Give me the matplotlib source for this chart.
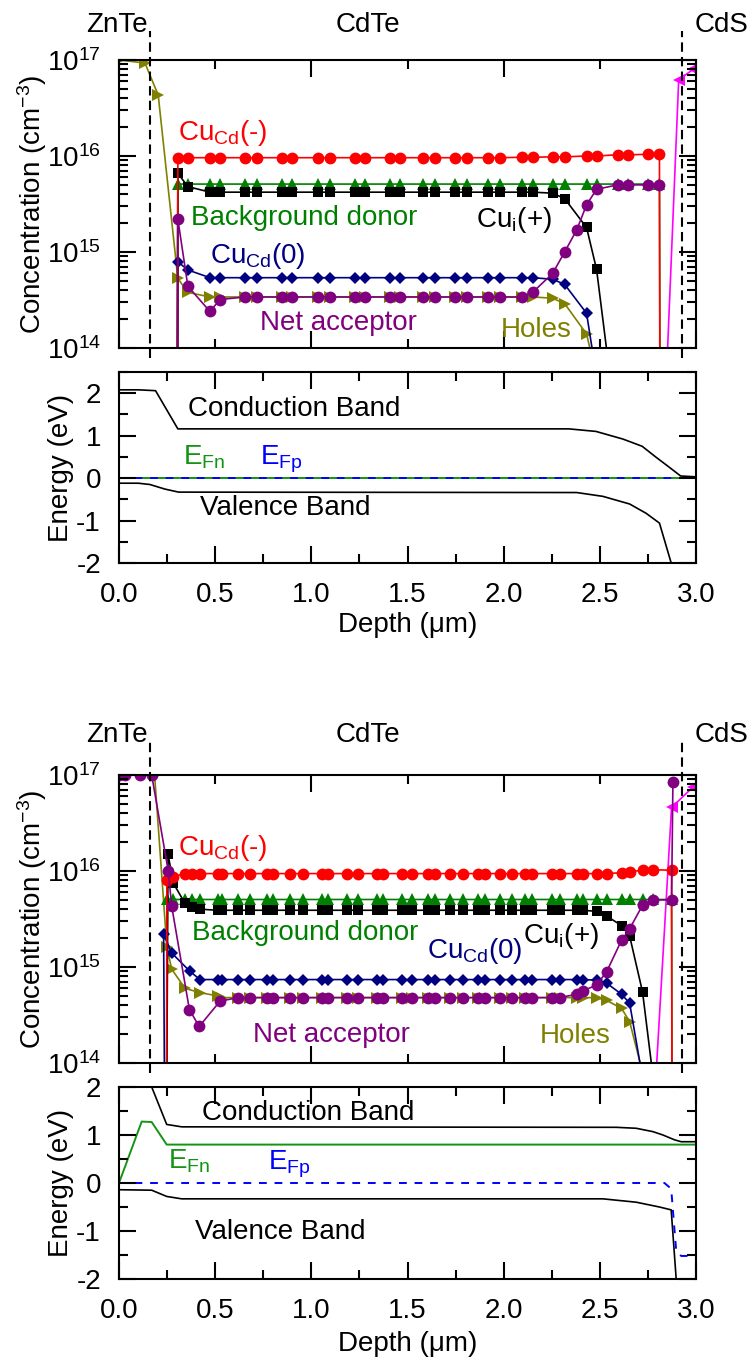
import matplotlib
matplotlib.use("Agg")
import matplotlib.pyplot as plt
from matplotlib.ticker import MultipleLocator, LogLocator, NullFormatter, FormatStrFormatter

plt.rcParams['font.family'] = ['Liberation Sans', 'DejaVu Sans']
plt.rcParams['mathtext.fontset'] = 'custom'
plt.rcParams['mathtext.rm'] = 'Liberation Sans'
plt.rcParams['mathtext.it'] = 'Liberation Sans:italic'
plt.rcParams['mathtext.bf'] = 'Liberation Sans:bold'
plt.rcParams['axes.unicode_minus'] = False
plt.rcParams['axes.axisbelow'] = False
plt.rcParams['font.size'] = 20

# layer interfaces (um)
znte_edge = 0.161
cds_edge = 2.925

# ---------------- case 1: concentrations (cm^-3) ----------------
grid_a = [0.306, 0.358, 0.473, 0.525, 0.655, 0.717, 0.847, 0.899, 1.034, 1.096,
          1.226, 1.278, 1.408, 1.460, 1.579, 1.642, 1.745, 1.808, 1.917, 1.979,
          2.094, 2.151, 2.255, 2.317, 2.431, 2.483, 2.592, 2.644, 2.748, 2.810]

cucd_minus_a_x = [0.300] + grid_a + [2.815]
cucd_minus_a = [1e10,
                 9.5e15, 9.6e15, 9.6e15, 9.6e15, 9.6e15, 9.6e15, 9.6e15, 9.6e15, 9.6e15, 9.6e15,
                 9.6e15, 9.6e15, 9.6e15, 9.6e15, 9.6e15, 9.6e15, 9.6e15, 9.6e15, 9.6e15, 9.6e15,
                 9.7e15, 9.7e15, 9.8e15, 9.8e15, 1.00e16, 1.00e16, 1.03e16, 1.03e16, 1.04e16, 1.04e16,
                 1e10]

donor_a_x = [0.302] + grid_a + [2.818]
donor_a = [1e10,
           5.1e15, 5.1e15, 5.1e15, 5.1e15, 5.1e15, 5.1e15, 5.1e15, 5.1e15, 5.1e15, 5.1e15,
           5.1e15, 5.1e15, 5.1e15, 5.1e15, 5.1e15, 5.1e15, 5.1e15, 5.1e15, 5.1e15, 5.1e15,
           5.1e15, 5.1e15, 5.1e15, 5.1e15, 5.1e15, 5.1e15, 5.1e15, 5.1e15, 5.1e15, 5.1e15,
           1e10]

cui_a_x = [0.298] + grid_a[:27]
cui_a = [1e10,
         6.6e15, 4.8e15, 4.2e15, 4.2e15, 4.2e15, 4.2e15, 4.2e15, 4.2e15, 4.2e15, 4.2e15,
         4.2e15, 4.2e15, 4.2e15, 4.2e15, 4.2e15, 4.2e15, 4.2e15, 4.2e15, 4.2e15, 4.2e15,
         4.2e15, 4.2e15, 4.1e15, 3.6e15, 1.8e15, 6.6e14, 1.2e13]

cucd_zero_a_x = [0.300] + grid_a[:26]
cucd_zero_a = [1e10,
               7.9e14, 6.5e14, 5.4e14, 5.4e14, 5.4e14, 5.4e14, 5.4e14, 5.4e14, 5.4e14, 5.4e14,
               5.4e14, 5.4e14, 5.4e14, 5.4e14, 5.4e14, 5.4e14, 5.4e14, 5.4e14, 5.4e14, 5.4e14,
               5.4e14, 5.4e14, 5.2e14, 4.6e14, 2.3e14, 5.0e13]

net_acc_a_x = [0.300] + grid_a[:24] + [2.380] + grid_a[24:]
net_acc_a = [1e10,
             2.2e15, 4.4e14, 2.4e14, 3.2e14, 3.4e14, 3.4e14, 3.4e14, 3.4e14, 3.4e14, 3.4e14,
             3.4e14, 3.4e14, 3.4e14, 3.4e14, 3.4e14, 3.4e14, 3.4e14, 3.4e14, 3.4e14, 3.4e14,
             3.4e14, 3.8e14, 6.0e14, 1.0e15, 1.7e15, 3.1e15, 4.5e15, 5.0e15, 5.0e15, 5.0e15,
             5.0e15]

holes_a_x = [0.0, 0.135, 0.204] + grid_a[:26]
holes_a = [1e17, 9.3e16, 4.3e16,
           5.3e14, 3.8e14, 3.4e14, 3.4e14, 3.4e14, 3.4e14, 3.4e14, 3.4e14, 3.4e14, 3.4e14,
           3.4e14, 3.4e14, 3.4e14, 3.4e14, 3.4e14, 3.4e14, 3.4e14, 3.4e14, 3.4e14, 3.4e14,
           3.4e14, 3.4e14, 3.3e14, 2.9e14, 1.4e14, 5.0e13]

electrons_a_x = [2.77, 2.91, 2.985]
electrons_a = [1e10, 6.2e16, 8.0e16]

# ---------------- case 1: band diagram (eV) ----------------
cb_a_x = [0.0, 0.10, 0.190, 0.306, 2.34, 2.48, 2.62, 2.72, 2.79, 2.86, 2.92, 3.0]
cb_a = [2.08, 2.08, 2.06, 1.16, 1.16, 1.10, 0.92, 0.75, 0.50, 0.26, 0.05, 0.03]
vb_a_x = [0.0, 0.10, 0.16, 0.24, 0.31, 2.38, 2.516, 2.655, 2.741, 2.81, 2.871, 2.885]
vb_a = [-0.12, -0.12, -0.15, -0.26, -0.33, -0.34, -0.43, -0.61, -0.83, -1.06, -2.0, -2.2]
efn_a_x = [0.0, 3.0]
efn_a = [0.0, 0.0]
efp_a_x = [0.0, 3.0]
efp_a = [0.0, 0.0]

# ---------------- case 2: concentrations (cm^-3) ----------------
grid_b = [0.249, 0.282, 0.343, 0.379, 0.421, 0.514, 0.535, 0.618, 0.681, 0.769,
          0.800, 0.888, 0.956, 1.055, 1.086, 1.184, 1.242, 1.340, 1.371, 1.470,
          1.522, 1.605, 1.642, 1.719, 1.787, 1.865, 1.901, 1.979, 2.042, 2.109,
          2.145, 2.249, 2.291, 2.379, 2.410, 2.483, 2.535, 2.613, 2.655, 2.722,
          2.774, 2.873]

cucd_minus_b_x = [0.244] + grid_b + [2.878]
cucd_minus_b = [1e10,
                8.0e15, 8.7e15, 9.4e15, 9.4e15, 9.4e15, 9.4e15, 9.4e15, 9.4e15, 9.4e15, 9.4e15,
                9.4e15, 9.4e15, 9.4e15, 9.4e15, 9.4e15, 9.4e15, 9.4e15, 9.4e15, 9.4e15, 9.4e15,
                9.4e15, 9.4e15, 9.4e15, 9.4e15, 9.4e15, 9.4e15, 9.4e15, 9.4e15, 9.4e15, 9.4e15,
                9.4e15, 9.4e15, 9.4e15, 9.4e15, 9.4e15, 9.4e15, 9.4e15, 9.6e15, 9.8e15, 1.02e16,
                1.03e16, 1.02e16,
                1e10]

donor_b_x = [0.246] + grid_b + [2.880]
donor_b = [1e10,
           5.05e15, 5.05e15, 5.05e15, 5.05e15, 5.05e15, 5.05e15, 5.05e15, 5.05e15, 5.05e15, 5.05e15,
           5.05e15, 5.05e15, 5.05e15, 5.05e15, 5.05e15, 5.05e15, 5.05e15, 5.05e15, 5.05e15, 5.05e15,
           5.05e15, 5.05e15, 5.05e15, 5.05e15, 5.05e15, 5.05e15, 5.05e15, 5.05e15, 5.05e15, 5.05e15,
           5.05e15, 5.05e15, 5.05e15, 5.05e15, 5.05e15, 5.05e15, 5.05e15, 5.05e15, 5.05e15, 5.05e15,
           5.05e15, 5.05e15,
           1e10]

cui_b_x = [0.238, 0.255] + grid_b[1:40] + [2.80]
cui_b = [1e10, 1.5e16,
         7.5e15, 4.6e15, 4.2e15, 4.0e15, 3.9e15, 3.9e15, 3.9e15, 3.9e15, 3.9e15, 3.9e15,
         3.9e15, 3.9e15, 3.9e15, 3.9e15, 3.9e15, 3.9e15, 3.9e15, 3.9e15, 3.9e15, 3.9e15,
         3.9e15, 3.9e15, 3.9e15, 3.9e15, 3.9e15, 3.9e15, 3.9e15, 3.9e15, 3.9e15, 3.9e15,
         3.9e15, 3.9e15, 3.9e15, 3.9e15, 3.8e15, 3.4e15, 2.7e15, 2.1e15, 5.5e14,
         3.0e13]

cucd_zero_b_x = [0.247, 0.232, 0.274, 0.369] + grid_b[4:40]
cucd_zero_b = [1e10, 2.2e15, 1.4e15, 9.0e14,
               7.4e14, 7.4e14, 7.4e14, 7.4e14, 7.4e14, 7.4e14, 7.4e14, 7.4e14, 7.4e14, 7.4e14,
               7.4e14, 7.4e14, 7.4e14, 7.4e14, 7.4e14, 7.4e14, 7.4e14, 7.4e14, 7.4e14, 7.4e14,
               7.4e14, 7.4e14, 7.4e14, 7.4e14, 7.4e14, 7.4e14, 7.4e14, 7.4e14, 7.4e14, 7.4e14,
               7.4e14, 7.3e14, 6.8e14, 5.2e14, 4.2e14, 7.0e13]

holes_b_x = [0.0, 0.185, 0.249, 0.274, 0.343, 0.421] + grid_b[5:40]
holes_b = [1e17, 1e17, 1.6e15, 9.5e14, 6.0e14, 5.4e14,
           5.0e14, 4.8e14, 4.8e14, 4.8e14, 4.8e14, 4.8e14, 4.8e14, 4.8e14, 4.8e14, 4.8e14,
           4.8e14, 4.8e14, 4.8e14, 4.8e14, 4.8e14, 4.8e14, 4.8e14, 4.8e14, 4.8e14, 4.8e14,
           4.8e14, 4.8e14, 4.8e14, 4.8e14, 4.8e14, 4.8e14, 4.8e14, 4.8e14, 4.8e14, 4.8e14,
           4.8e14, 4.5e14, 3.7e14, 2.7e14, 8.0e13]

net_acc_b_x = [0.0, 0.031, 0.109, 0.170, 0.256, 0.274, 0.366, 0.417, 0.525] + grid_b[7:42] + [2.880]
net_acc_b = [1e17, 1e17, 1e17, 1e17, 1.0e16, 4.3e15, 3.6e14, 2.4e14, 4.4e14,
             4.8e14, 4.8e14, 4.8e14, 4.8e14, 4.8e14, 4.8e14, 4.8e14, 4.8e14, 4.8e14, 4.8e14,
             4.8e14, 4.8e14, 4.8e14, 4.8e14, 4.8e14, 4.8e14, 4.8e14, 4.8e14, 4.8e14, 4.8e14,
             4.8e14, 4.8e14, 4.8e14, 4.8e14, 4.8e14, 4.8e14,
             5.2e14, 5.6e14, 6.5e14, 8.9e14, 1.9e15, 2.5e15, 4.4e15, 5.0e15, 5.0e15,
             8.5e16]

electrons_b_x = [2.68, 2.873, 2.985]
electrons_b = [1e10, 4.6e16, 7.5e16]

# ---------------- case 2: band diagram (eV) ----------------
cb_b_x = [0.0, 0.16, 0.248, 0.326, 2.585, 2.689, 2.776, 2.828, 2.888, 2.923, 3.0]
cb_b = [2.1, 2.1, 1.22, 1.17, 1.16, 1.14, 1.07, 1.00, 0.90, 0.86, 0.86]
efn_b_x = [0.0, 0.118, 0.170, 0.248, 3.0]
efn_b = [0.0, 1.28, 1.27, 0.80, 0.80]
efp_b_x = [0.0, 2.836, 2.871, 2.897, 2.923, 3.0]
efp_b = [0.0, 0.0, -0.12, -1.41, -1.52, -1.52]
vb_b_x = [0.0, 0.170, 0.248, 0.326, 2.516, 2.689, 2.81, 2.871, 2.897, 2.90]
vb_b = [-0.14, -0.15, -0.28, -0.33, -0.33, -0.40, -0.50, -0.56, -2.0, -2.2]

RED = '#ff0000'
GREEN = '#008000'
NAVY = '#000080'
PURPLE = '#800080'
OLIVE = '#808000'
MAGENTA = '#ff00ff'
BLUE = '#0000ff'
FN_GREEN = '#149414'

W, H = 753, 1363
fig = plt.figure(figsize=(W / 100, H / 100), dpi=100)


def box(left, top, right, bottom):
    return [left / W, 1 - bottom / H, (right - left) / W, (bottom - top) / H]


def style_ticks(ax):
    ax.tick_params(which='both', direction='in', top=True, right=True, width=1.5)
    ax.tick_params(which='major', length=12)
    ax.tick_params(which='minor', length=6.5)
    for s in ax.spines.values():
        s.set_linewidth(1.5)


def species(ax, x, y, color, marker, ms=6.5, zorder=2):
    ax.plot(x, y, color=color, marker=marker, ms=ms, mec=color, mew=0,
            lw=1.2, zorder=zorder)


def conc_panel(ax, d, label_y):
    ax.set_yscale('log')
    ax.set_xlim(0, 3)
    ax.set_ylim(1e14, 1e17)
    ax.xaxis.set_major_locator(MultipleLocator(1.0))
    ax.xaxis.set_minor_locator(MultipleLocator(0.5))
    ax.xaxis.set_major_formatter(NullFormatter())
    ax.yaxis.set_major_locator(LogLocator(base=10, numticks=10))
    ax.yaxis.set_minor_locator(LogLocator(base=10, subs=range(2, 10), numticks=10))
    ax.yaxis.set_minor_formatter(NullFormatter())
    style_ticks(ax)
    ax.tick_params(axis='y', which='major', pad=13)
    ax.set_ylabel('Concentration (cm$^{-3}$)')
    ax.yaxis.set_label_coords(-0.121, 0.5)

    species(ax, d['holes'][0], d['holes'][1], OLIVE, '>', 8)
    species(ax, d['electrons'][0], d['electrons'][1], MAGENTA, '<', 8)
    species(ax, d['donor'][0], d['donor'][1], GREEN, '^', 8)
    species(ax, d['cui'][0], d['cui'][1], 'black', 's', 6.5)
    species(ax, d['zero'][0], d['zero'][1], NAVY, 'D', 6.5)
    species(ax, d['minus'][0], d['minus'][1], RED, 'o', 8.5)
    species(ax, d['net'][0], d['net'][1], PURPLE, 'o', 8.5)

    # layer boundaries, drawn past the frame like in the device sketch
    for xe in (znte_edge, cds_edge):
        ax.axvline(xe, ymin=-0.035, ymax=label_y - 0.02, color='black', lw=1.5,
                   ls=(0, (4.5, 2.5)), clip_on=False, zorder=5)
    tr = ax.get_xaxis_transform()
    ax.text(0.147, label_y, 'ZnTe', transform=tr, ha='right', va='center')
    ax.text(1.294, label_y, 'CdTe', transform=tr, ha='center', va='center')
    ax.text(2.992, label_y, 'CdS', transform=tr, ha='left', va='center')


def energy_panel(ax, ylim, xlabel_y):
    ax.set_xlim(0, 3)
    ax.set_ylim(*ylim)
    ax.xaxis.set_major_locator(MultipleLocator(0.5))
    ax.xaxis.set_minor_locator(MultipleLocator(0.25))
    ax.xaxis.set_major_formatter(FormatStrFormatter('%.1f'))
    ax.yaxis.set_major_locator(MultipleLocator(1))
    ax.yaxis.set_minor_locator(MultipleLocator(0.5))
    ax.yaxis.set_major_formatter(FormatStrFormatter('%d'))
    style_ticks(ax)
    ax.tick_params(axis='y', which='major', pad=13)
    ax.tick_params(axis='x', which='major', pad=14)
    ax.set_ylabel('Energy (eV)')
    ax.yaxis.set_label_coords(-0.078, 0.5)
    ax.set_xlabel('Depth (\u03bcm)')
    ax.xaxis.set_label_coords(0.5, xlabel_y)


# ================= case 1 =================
ax1c = fig.add_axes(box(119, 60, 696, 348))
conc_panel(ax1c, {
    'minus': (cucd_minus_a_x, cucd_minus_a),
    'donor': (donor_a_x, donor_a),
    'cui': (cui_a_x, cui_a),
    'zero': (cucd_zero_a_x, cucd_zero_a),
    'net': (net_acc_a_x, net_acc_a),
    'holes': (holes_a_x, holes_a),
    'electrons': (electrons_a_x, electrons_a),
}, 1.121)
ax1c.text(0.306, 1.47e16, 'Cu$_\\mathregular{Cd}$(-)', color=RED, va='baseline')
ax1c.text(0.374, 1.9e15, 'Background donor', color=GREEN, va='baseline')
ax1c.text(0.473, 7.7e14, 'Cu$_\\mathregular{Cd}$(0)', color=NAVY, va='baseline')
ax1c.text(0.732, 1.55e14, 'Net acceptor', color=PURPLE, va='baseline')
ax1c.text(1.855, 1.8e15, 'Cu$_\\mathregular{i}$(+)', color='black', va='baseline')
ax1c.text(1.984, 1.3e14, 'Holes', color=OLIVE, va='baseline')

ax1e = fig.add_axes(box(119, 372, 696, 563))
energy_panel(ax1e, (-2, 2.5), -0.257)
ax1e.plot(cb_a_x, cb_a, color='black', lw=1.2)
ax1e.plot(vb_a_x, vb_a, color='black', lw=1.2)
ax1e.plot(efn_a_x, efn_a, color=FN_GREEN, lw=1.4)
ax1e.plot(efp_a_x, efp_a, color=BLUE, lw=1.4, ls=(0, (4, 4)))
ax1e.text(0.36, 1.46, 'Conduction Band', va='baseline')
ax1e.text(0.42, -0.88, 'Valence Band', va='baseline')
ax1e.text(0.333, 0.31, 'E$_\\mathregular{Fn}$', color=FN_GREEN, va='baseline')
ax1e.text(0.732, 0.31, 'E$_\\mathregular{Fp}$', color=BLUE, va='baseline')

# ================= case 2 =================
ax2c = fig.add_axes(box(119, 775, 696, 1063))
conc_panel(ax2c, {
    'minus': (cucd_minus_b_x, cucd_minus_b),
    'donor': (donor_b_x, donor_b),
    'cui': (cui_b_x, cui_b),
    'zero': (cucd_zero_b_x, cucd_zero_b),
    'net': (net_acc_b_x, net_acc_b),
    'holes': (holes_b_x, holes_b),
    'electrons': (electrons_b_x, electrons_b),
}, 1.139)
ax2c.text(0.306, 1.47e16, 'Cu$_\\mathregular{Cd}$(-)', color=RED, va='baseline')
ax2c.text(0.379, 1.9e15, 'Background donor', color=GREEN, va='baseline')
ax2c.text(1.60, 1.23e15, 'Cu$_\\mathregular{Cd}$(0)', color=NAVY, va='baseline')
ax2c.text(2.10, 1.78e15, 'Cu$_\\mathregular{i}$(+)', color='black', va='baseline')
ax2c.text(0.696, 1.66e14, 'Net acceptor', color=PURPLE, va='baseline')
ax2c.text(2.19, 1.62e14, 'Holes', color=OLIVE, va='baseline')

ax2e = fig.add_axes(box(119, 1087, 696, 1279))
energy_panel(ax2e, (-2, 2), -0.27)
ax2e.plot(cb_b_x, cb_b, color='black', lw=1.2)
ax2e.plot(vb_b_x, vb_b, color='black', lw=1.2)
ax2e.plot(efn_b_x, efn_b, color=FN_GREEN, lw=1.4)
ax2e.plot(efp_b_x, efp_b, color=BLUE, lw=1.4, ls=(0, (4, 4)))
ax2e.text(0.43, 1.31, 'Conduction Band', va='baseline')
ax2e.text(0.395, -1.17, 'Valence Band', va='baseline')
ax2e.text(0.255, 0.30, 'E$_\\mathregular{Fn}$', color=FN_GREEN, va='baseline')
ax2e.text(0.775, 0.28, 'E$_\\mathregular{Fp}$', color=BLUE, va='baseline')

fig.savefig('out.png', dpi=100)
